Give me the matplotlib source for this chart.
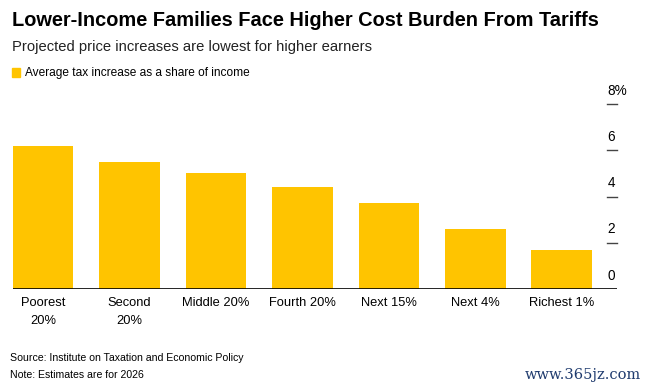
import matplotlib
matplotlib.use("Agg")
import matplotlib.pyplot as plt
from matplotlib.patches import Rectangle

categories = ["Poorest\n20%", "Second\n20%", "Middle 20%", "Fourth 20%", "Next 15%", "Next 4%", "Richest 1%"]
values = [6.2, 5.5, 5.0, 4.4, 3.7, 2.6, 1.7]
yticks = [0, 2, 4, 6, 8]
ytick_labels = ["0", "2", "4", "6", "8%"]

W, H = 649, 390
fig = plt.figure(figsize=(W / 100, H / 100), dpi=100)
plt.rcParams['font.family'] = ['Liberation Sans', 'DejaVu Sans']

def fx(px):
    return px / W

def fy(py):
    return 1 - py / H

bar_color = "#FFC400"
left, right, base, top = 13, 617, 289, 104
ax = fig.add_axes([fx(left), fy(base), (right - left) / W, (base - top) / H])
x = list(range(len(values)))
ax.bar(x, values, width=0.7, color=bar_color, zorder=2)
ax.set_xlim(-0.35, 6.64)
ax.set_ylim(0, 8)
for s in ax.spines.values():
    s.set_visible(False)
ax.axhline(0, color="black", lw=1.2, zorder=3)
ax.set_yticks([])
ax.set_xticks(x)
ax.set_xticklabels(categories, fontsize=9.3, linespacing=1.6)
ax.tick_params(axis="x", length=0, pad=6)

# right-side y ticks: short lines with label above
for v, lab in zip(yticks, ytick_labels):
    if v != 0:
        ax.plot([6.53, 6.64], [v, v], color="#444444", lw=1.0, clip_on=False, zorder=3)
    ax.text(6.53, v + 0.28, lab, ha="left", va="bottom", fontsize=9.8, color="black")

fig.text(fx(12), fy(20), "Lower-Income Families Face Higher Cost Burden From Tariffs",
         fontsize=14.4, fontweight="bold", ha="left", va="center", color="black")
fig.text(fx(12), fy(47), "Projected price increases are lowest for higher earners",
         fontsize=10.6, ha="left", va="center", color="#222222")
fig.patches.append(Rectangle((fx(12), fy(77)), fx(8), 9 / H, transform=fig.transFigure,
                             color=bar_color, figure=fig))
fig.text(fx(25), fy(73), "Average tax increase as a share of income",
         fontsize=8.6, ha="left", va="center", color="black")
fig.text(fx(10), fy(358), "Source: Institute on Taxation and Economic Policy",
         fontsize=7.6, ha="left", va="center", color="black")
fig.text(fx(10), fy(375), "Note: Estimates are for 2026",
         fontsize=7.6, ha="left", va="center", color="black")
fig.text(fx(641), fy(375), "www.365jz.com", fontsize=10.5, family="DejaVu Serif",
         ha="right", va="center", color="#1f3b6e")

fig.savefig("out.png", dpi=100)
